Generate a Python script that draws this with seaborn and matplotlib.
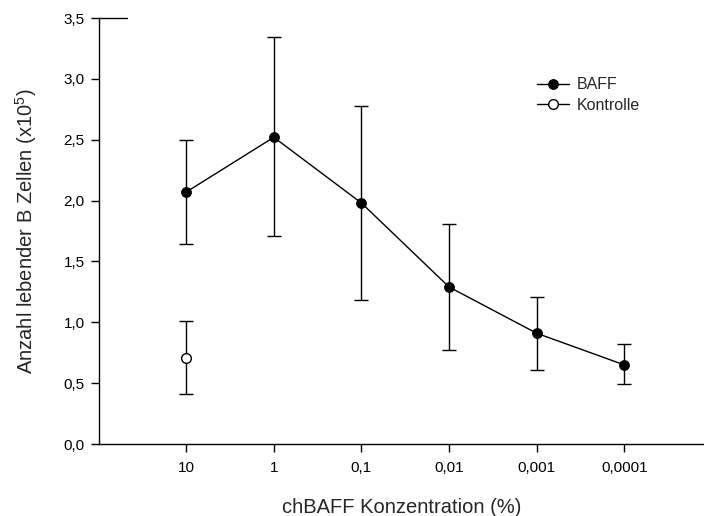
import matplotlib
matplotlib.use("Agg")
import matplotlib.pyplot as plt
import seaborn as sns
import pandas as pd
import numpy as np

categories = ["10", "1", "0,1", "0,01", "0,001", "0,0001"]
baff_mean = [2.07, 2.52, 1.98, 1.29, 0.91, 0.65]
baff_low = [1.64, 1.71, 1.18, 0.77, 0.61, 0.49]
baff_high = [2.50, 3.34, 2.78, 1.81, 1.21, 0.82]
kontrolle_cat = ["10"]
kontrolle_mean = [0.71]
kontrolle_low = [0.41]
kontrolle_high = [1.01]

y_ticks = [0.0, 0.5, 1.0, 1.5, 2.0, 2.5, 3.0, 3.5]

sns.set_style("ticks")
plt.rcParams['font.family'] = ['Liberation Sans', 'DejaVu Sans']
plt.rcParams['mathtext.fontset'] = 'custom'
plt.rcParams['mathtext.rm'] = 'Liberation Sans'

pos = {c: i for i, c in enumerate(categories)}
df_b = pd.DataFrame({"x": [pos[c] for c in categories], "y": baff_mean,
                     "lo": baff_low, "hi": baff_high})
df_k = pd.DataFrame({"x": [pos[c] for c in kontrolle_cat], "y": kontrolle_mean,
                     "lo": kontrolle_low, "hi": kontrolle_high})

fig = plt.figure(figsize=(7.04, 5.16), dpi=100)
ax = fig.add_axes([98.6 / 704, 72 / 516, (704 - 98.6) / 704, 426 / 516])

for d in (df_b, df_k):
    ax.errorbar(d["x"], d["y"], yerr=[d["y"] - d["lo"], d["hi"] - d["y"]],
                fmt="none", ecolor="black", elinewidth=1.0, capsize=4.8,
                capthick=1.0, zorder=2)

sns.lineplot(data=df_b, x="x", y="y", ax=ax, color="black", linewidth=1.0,
             marker="o", markersize=7, markerfacecolor="black",
             markeredgecolor="black", label="BAFF", zorder=3)
sns.lineplot(data=df_k, x="x", y="y", ax=ax, color="black", linewidth=1.0,
             marker="o", markersize=7, markerfacecolor="white",
             markeredgecolor="black", markeredgewidth=1.0,
             label="Kontrolle", zorder=3)

ax.set_xlim(-1, 5.91)
ax.set_ylim(0, 3.5)
ax.set_xticks(range(len(categories)))
ax.set_xticklabels(categories)
ax.set_yticks(y_ticks)
ax.set_yticklabels([f"{v:.1f}".replace(".", ",") for v in y_ticks])
ax.tick_params(axis="both", direction="out", length=6, width=1.0,
               labelsize=11, color="black", labelcolor="black")
ax.tick_params(axis="x", pad=6)
ax.tick_params(axis="y", pad=4)

sns.despine(ax=ax)
for s in ("left", "bottom"):
    ax.spines[s].set_linewidth(1.0)
    ax.spines[s].set_color("black")

# short top stub at the axis top, as in the reference
ax.axhline(3.5, xmin=0, xmax=0.047, color="black", linewidth=1.0, clip_on=False)

ax.set_xlabel("chBAFF Konzentration (%)", fontsize=14.5, labelpad=16.5)
ax.set_ylabel(r"Anzahl lebender B Zellen (x10$^{\mathregular{5}}$)",
              fontsize=14.5, labelpad=18)

leg = ax.legend(loc="upper left", bbox_to_anchor=(0.713, 0.876),
                frameon=False, fontsize=11.5, handlelength=2.0,
                handletextpad=0.5, labelspacing=0.35, borderaxespad=0)

fig.savefig("out.png", dpi=100)
